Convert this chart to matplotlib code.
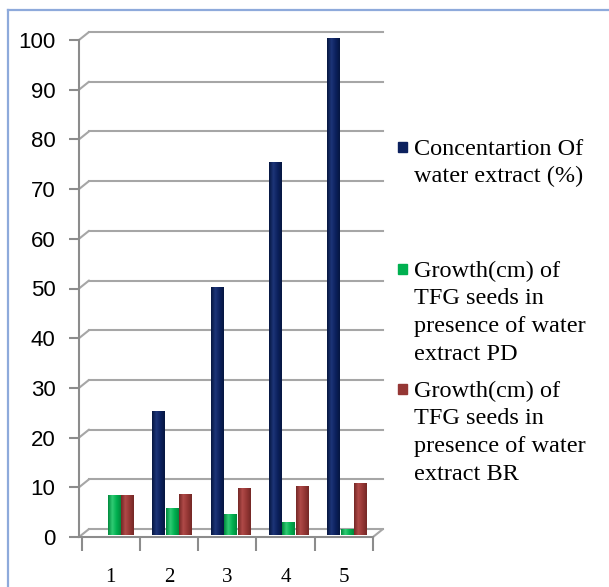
import matplotlib
matplotlib.use("Agg")
import matplotlib.pyplot as plt
import matplotlib.transforms as mtransforms
from matplotlib.patches import ConnectionPatch, Rectangle
from matplotlib.lines import Line2D
from matplotlib.colors import LinearSegmentedColormap
import numpy as np

categories = ["1", "2", "3", "4", "5"]
concentration = [0, 25, 50, 75, 100]
growth_pd = [8.0, 5.5, 4.2, 2.7, 1.3]
growth_br = [8.1, 8.2, 9.5, 9.9, 10.4]
series_labels = [
    ["Concentartion Of", "water extract (%)"],
    ["Growth(cm) of", "TFG seeds in", "presence of water", "extract PD"],
    ["Growth(cm) of", "TFG seeds in", "presence of water", "extract BR"],
]
yticks = list(range(0, 101, 10))

colors = ["#0c215e", "#00b050", "#953735"]
dark = ["#061640", "#008a3c", "#742826"]
light = ["#1d3578", "#30cc74", "#b04a48"]

W, H = 609, 587
fig = plt.figure(figsize=(W / 100, H / 100), dpi=100)
fig.patch.set_facecolor("white")

# border
fig.add_artist(Line2D([8 / W, 1], [1 - 10 / H, 1 - 10 / H], color="#8eaadb", lw=1.6))
fig.add_artist(Line2D([8 / W, 8 / W], [0, 1 - 10 / H], color="#8eaadb", lw=1.6))

x_left_px, x_right_px = 79, 373
y0_px, y100_px = 537, 40
ax = fig.add_axes([x_left_px / W, (H - y0_px) / H,
                   (x_right_px - x_left_px) / W, (y0_px - y100_px) / H])
ax.set_facecolor("none")
xmin, xmax = 0.455, 5.5
ax.set_xlim(xmin, xmax)
ax.set_ylim(0, 100)

grid_c = "#a6a6a6"
back = mtransforms.offset_copy(ax.transData, fig=fig, x=10, y=8, units="dots")

for yv in yticks:
    ax.plot([xmin, xmax], [yv, yv], color=grid_c, lw=1.5, transform=back,
            clip_on=False, zorder=1)
    cp = ConnectionPatch(xyA=(xmin, yv), coordsA=ax.transData,
                         xyB=(xmin, yv), coordsB=back, color=grid_c, lw=1.5,
                         zorder=1)
    ax.add_artist(cp)
cp = ConnectionPatch(xyA=(xmax, 0), coordsA=ax.transData,
                     xyB=(xmax, 0), coordsB=back, color=grid_c, lw=1.5, zorder=1)
ax.add_artist(cp)

for s in ["top", "right"]:
    ax.spines[s].set_visible(False)
for s in ["left", "bottom"]:
    ax.spines[s].set_color("#8c8c8c")
    ax.spines[s].set_linewidth(1.5)

ax.set_yticks(yticks)
ax.set_yticklabels([str(v) for v in yticks], fontfamily="Liberation Sans",
                   fontsize=16)
ax.tick_params(axis="y", length=7, width=1.5, color="#8c8c8c", pad=10)
boundaries = np.arange(0.5, 6.0, 1.0)
ax.set_xticks(boundaries)
ax.set_xticklabels([])
ax.tick_params(axis="x", which="major", length=10, width=1.5, color="#8c8c8c")
ax.set_xticks(np.arange(1, 6), minor=True)
ax.set_xticklabels(categories, minor=True, fontfamily="Liberation Serif",
                   fontsize=15)
ax.tick_params(axis="x", which="minor", length=0, pad=22)

bar_tr = mtransforms.offset_copy(ax.transData, fig=fig, x=3, y=2, units="dots")
x = np.arange(1, 6)
bw = 0.21
step = 0.232
for k, vals in enumerate([concentration, growth_pd, growth_br]):
    cmap = LinearSegmentedColormap.from_list(
        "c%d" % k, [dark[k], light[k], colors[k], dark[k]])
    grad = np.linspace(0, 1, 64).reshape(1, -1)
    bars = ax.bar(x + (k - 1) * step, vals, width=bw, color=colors[k],
                  transform=bar_tr, zorder=3, linewidth=0)
    for p in bars.patches:
        x0, w, h = p.get_x(), p.get_width(), p.get_height()
        if h <= 0:
            continue
        im = ax.imshow(grad, extent=(x0, x0 + w, 0, h), cmap=cmap,
                       aspect="auto", transform=bar_tr, zorder=4,
                       interpolation="bilinear")
        im.set_clip_path(p)
ax.set_xlim(xmin, xmax)
ax.set_ylim(0, 100)

# legend
legend_first_baseline = [155, 277, 397]
pitch = 27.5
for k, lines in enumerate(series_labels):
    b = legend_first_baseline[k]
    fig.add_artist(Rectangle(((398) / W, (H - b + 3) / H), 9 / W, 10 / H,
                             transform=fig.transFigure, color=colors[k]))
    for i, t in enumerate(lines):
        fig.text(414 / W, (H - (b + i * pitch)) / H, t,
                 fontfamily="Liberation Serif", fontsize=17.5, va="baseline",
                 ha="left")

fig.savefig("out.png", dpi=100)
